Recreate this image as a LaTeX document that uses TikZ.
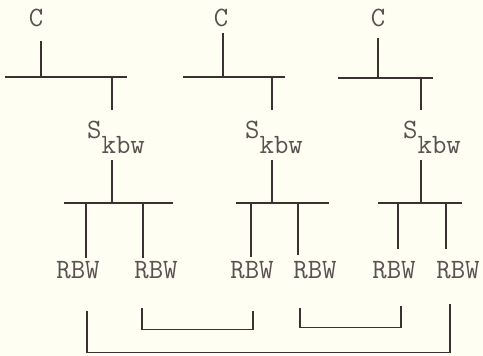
\documentclass[tikz,border=0pt]{standalone}
\usepackage{fontspec}
\usepackage{tikz}
\definecolor{InkBrown}{HTML}{3B3131}
\definecolor{TypeGray}{HTML}{5A5252}
\definecolor{PaperBg}{HTML}{FEFEF2}
\tikzset{
  lbl/.style={font=\ttfamily\fontsize{28}{32}\selectfont, text=TypeGray, inner sep=0pt, anchor=base},
  bus/.style={line width=2.4pt, draw=InkBrown},
  tap/.style={line width=1.3pt, draw=InkBrown}
}
\begin{document}
\begin{tikzpicture}[x=1pt, y=-1pt]
            \fill[PaperBg] (0,0) rectangle (483,356);
            % Controllers
            \node[lbl] (c1) at (36,27) {C};
            \node[lbl] (c2) at (221,27) {C};
            \node[lbl] (c3) at (378,27) {C};
            % Switches
            \node[lbl, anchor=base west] (s1) at (87,138) {S\raisebox{-15pt}{kbw}};
            \node[lbl, anchor=base west] (s2) at (245,138) {S\raisebox{-15pt}{kbw}};
            \node[lbl, anchor=base west] (s3) at (403,138) {S\raisebox{-15pt}{kbw}};
            % RBW units
            \node[lbl] (r1) at (78,278) {RBW};
            \node[lbl] (r2) at (156,278) {RBW};
            \node[lbl] (r3) at (252,278) {RBW};
            \node[lbl] (r4) at (315,278) {RBW};
            \node[lbl] (r5) at (394,278) {RBW};
            \node[lbl] (r6) at (458,278) {RBW};

            % Upper buses
            \draw[bus] (5,77) -- (127,77);
            \draw[bus] (183,77) -- (285,77);
            \draw[bus] (338,78) -- (433,78);
            \coordinate (u1) at (41,77);
            \coordinate (u2) at (223,77);
            \coordinate (u3) at (378,78);
            \coordinate (k1) at (112,77);
            \coordinate (k2) at (272,77);
            \coordinate (k3) at (421,78);
            % Lower buses
            \draw[bus] (64,203) -- (173,203);
            \draw[bus] (236,203) -- (329,203);
            \draw[bus] (378,203) -- (462,203);
            \coordinate (m1) at (112,203);
            \coordinate (m2) at (272,203);
            \coordinate (m3) at (421,203);
            \coordinate (d1) at (86,203);
            \coordinate (d2) at (143,203);
            \coordinate (d3) at (251,203);
            \coordinate (d4) at (298,203);
            \coordinate (d5) at (398,203);
            \coordinate (d6) at (446,203);

            % C to upper bus
            \draw[tap] ([yshift=-13pt]u1 |- c1.south) -- (u1);
            \draw[tap] ([yshift=-5pt]u2 |- c2.south) -- (u2);
            \draw[tap] ([yshift=-10pt]u3 |- c3.south) -- (u3);
            % upper bus to switch
            \draw[tap] (k1) -- ([yshift=10pt]k1 |- s1.north);
            \draw[tap] (k2) -- ([yshift=10pt]k2 |- s2.north);
            \draw[tap] (k3) -- ([yshift=10pt]k3 |- s3.north);
            % switch to lower bus
            \draw[tap] ([yshift=-7pt]m1 |- s1.south) -- (m1);
            \draw[tap] ([yshift=-7pt]m2 |- s2.south) -- (m2);
            \draw[tap] ([yshift=-7pt]m3 |- s3.south) -- (m3);
            % lower bus to RBW
            \draw[tap] (d1) -- ([yshift=3pt]d1 |- r1.north);
            \draw[tap] (d2) -- ([yshift=3pt]d2 |- r2.north);
            \draw[tap] (d3) -- ([yshift=4pt]d3 |- r3.north);
            \draw[tap] (d4) -- ([yshift=6pt]d4 |- r4.north);
            \draw[tap] (d5) -- ([yshift=12pt]d5 |- r5.north);
            \draw[tap] (d6) -- ([yshift=12pt]d6 |- r6.north);

            % Pair links
            \draw[tap] ([xshift=-14pt, yshift=-29pt]r2.south) |- ([xshift=1pt, yshift=-51pt]r3.south) -- ([xshift=1pt, yshift=-32pt]r3.south);
            \draw[tap] ([xshift=-15pt, yshift=-29pt]r4.south) |- ([xshift=7pt, yshift=-49pt]r5.south) -- ([xshift=7pt, yshift=-27pt]r5.south);
            \draw[tap] ([xshift=9pt, yshift=-32pt]r1.south) |- ([xshift=-8pt, yshift=-74pt]r6.south) -- ([xshift=-8pt, yshift=-25pt]r6.south);
        \end{tikzpicture}
\end{document}
